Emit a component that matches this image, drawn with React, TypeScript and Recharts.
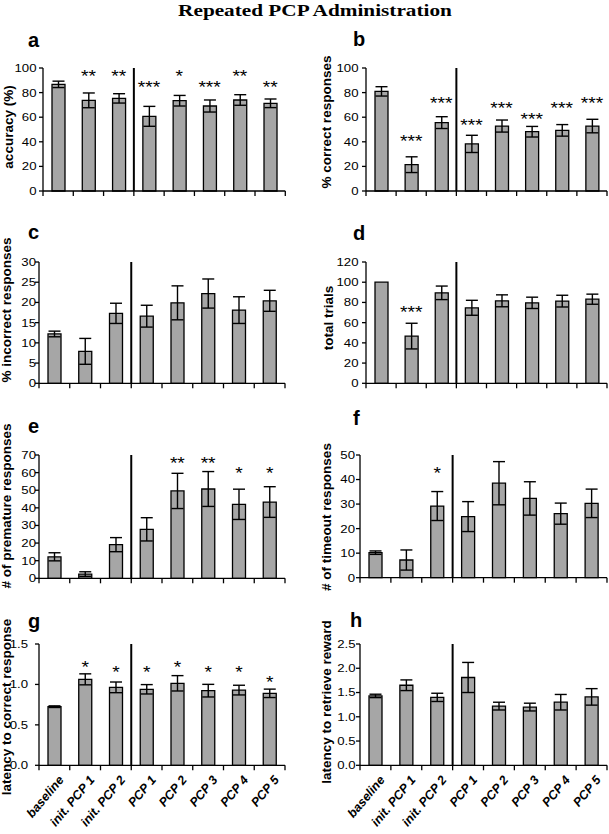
import React from "react"
import {
  Bar,
  ComposedChart,
  ErrorBar,
  ReferenceLine,
  Scatter,
  XAxis,
  YAxis,
} from "recharts"

const CATEGORIES = [
  "baseline",
  "init. PCP 1",
  "init. PCP 2",
  "PCP 1",
  "PCP 2",
  "PCP 3",
  "PCP 4",
  "PCP 5",
]

// a — accuracy (%)
const ACC_MEAN = [86.7, 73.7, 75.3, 60.7, 73.4, 69.1, 74.0, 71.3]
const ACC_SEM = [2.6, 6.0, 3.8, 8.1, 4.3, 4.9, 4.3, 3.5]
const ACC_STARS = ["", "**", "**", "***", "*", "***", "**", "**"]
const ACC_STAR_AT = [0, 96.2, 96.2, 87.8, 96.2, 87.8, 96.2, 87.8]

// b — % correct responses
const CORR_MEAN = [81.0, 21.4, 55.6, 38.3, 52.8, 48.2, 49.3, 52.8]
const CORR_SEM = [3.8, 6.4, 4.8, 7.0, 4.9, 4.3, 4.7, 5.5]
const CORR_STARS = ["", "***", "***", "***", "***", "***", "***", "***"]
const CORR_STAR_AT = [0, 43.4, 74.3, 56.9, 70.5, 61.5, 70.5, 74.5]

// c — % incorrect responses
const INC_MEAN = [12.2, 7.9, 17.3, 16.6, 19.9, 22.2, 18.1, 20.4]
const INC_SEM = [0.7, 3.2, 2.5, 2.7, 4.2, 3.6, 3.3, 2.6]

// d — total trials
const TRIALS_MEAN = [100, 46.7, 89.5, 74.7, 81.6, 79.6, 81.3, 83.2]
const TRIALS_SEM = [0, 12.7, 6.7, 7.4, 5.9, 5.6, 5.8, 5.0]
const TRIALS_STARS = ["", "***", "", "", "", "", "", ""]
const TRIALS_STAR_AT = [0, 74, 0, 0, 0, 0, 0, 0]

// e — # of premature responses
const PREM_MEAN = [12.2, 2.4, 19.1, 27.8, 49.6, 50.7, 42.0, 43.3]
const PREM_SEM = [2.3, 1.3, 4.0, 6.6, 10.0, 9.9, 8.6, 8.7]
const PREM_STARS = ["", "", "", "", "**", "**", "*", "*"]
const PREM_STAR_AT = [0, 0, 0, 0, 67.2, 67.2, 61.5, 61.5]

// f — # of timeout responses
const TIMEOUT_MEAN = [10.2, 7.2, 29.2, 24.9, 38.5, 32.3, 26.1, 30.3]
const TIMEOUT_SEM = [0.7, 4.1, 5.9, 6.1, 8.8, 6.8, 4.3, 5.8]
const TIMEOUT_STARS = ["", "", "*", "", "", "", "", ""]
const TIMEOUT_STAR_AT = [0, 0, 43.9, 0, 0, 0, 0, 0]

// g — latency to correct response
const LATC_MEAN = [0.725, 1.063, 0.964, 0.94, 1.014, 0.923, 0.93, 0.89]
const LATC_SEM = [0.01, 0.068, 0.066, 0.058, 0.095, 0.078, 0.06, 0.052]
const LATC_STARS = ["", "*", "*", "*", "*", "*", "*", "*"]
const LATC_STAR_AT = [0, 1.26, 1.2, 1.2, 1.26, 1.2, 1.2, 1.075]

// h — latency to retrieve reward
const LATR_MEAN = [1.43, 1.65, 1.4, 1.81, 1.22, 1.2, 1.3, 1.41]
const LATR_SEM = [0.035, 0.11, 0.085, 0.31, 0.08, 0.08, 0.16, 0.17]

const FONT = "'Liberation Sans', Arial, sans-serif"
const BAR_FILL = "#a6a6a6"

const X_TICKS = [0, 0.5, 1, 1.5, 2, 2.5, 3, 3.5, 4, 4.5, 5, 5.5, 6, 6.5, 7, 7.5, 8]

function XTick(props: any) {
  const { x, y, payload, showLabels } = props
  const v = payload.value as number
  if (Number.isInteger(v)) {
    return <line x1={x} x2={x} y1={y} y2={y + 5} stroke="#000" strokeWidth={1.3} />
  }
  if (!showLabels) return <g />
  return (
    <text
      transform={`translate(${x + 10},${y + 15}) rotate(-50)`}
      textAnchor="end"
      fontSize={12.5}
      fontWeight="bold"
      fontStyle="italic"
      fontFamily={FONT}
      fill="#000"
    >
      {CATEGORIES[Math.floor(v)]}
    </text>
  )
}

function YTick(props: any) {
  const { x, y, payload, decimals } = props
  const v = payload.value as number
  return (
    <text
      transform={`translate(${x},${y}) scale(1.2,1)`}
      textAnchor="end"
      dy="0.36em"
      fontSize={11}
      fontFamily={FONT}
      fill="#000"
    >
      {decimals ? v.toFixed(1) : String(v)}
    </text>
  )
}

function StarMark(props: any) {
  const { cx, cy, payload } = props
  if (cx == null || cy == null || !payload?.star) return <g />
  return (
    <text
      transform={`translate(${cx},${cy + 9.5}) scale(1.2,1)`}
      textAnchor="middle"
      fontSize={16}
      fontFamily={FONT}
      fill="#000"
    >
      {payload.star}
    </text>
  )
}

interface PanelProps {
  mean: number[]
  sem: number[]
  stars?: string[]
  starAt?: number[]
  yMax: number
  yTicks: number[]
  decimals?: boolean
  // plot rectangle on the page
  x0: number
  x1: number
  yTop: number
  yBot: number
  tickGap: number
  showLabels?: boolean
}

const AXIS_W = 40
const TOP_M = 10
const RIGHT_M = 2

function Panel(p: PanelProps) {
  const rows = CATEGORIES.map((name, i) => ({
    x: i + 0.5,
    name,
    mean: p.mean[i],
    sem: p.sem[i],
    star: p.stars ? p.stars[i] : "",
    starAt: p.starAt ? p.starAt[i] : 0,
  }))
  const starRows = rows.filter((r) => r.star)
  const xAxisH = p.showLabels ? 80 : 10
  const plotW = p.x1 - p.x0
  const plotH = p.yBot - p.yTop
  const width = AXIS_W + plotW + RIGHT_M
  const height = TOP_M + plotH + xAxisH

  return (
    <div style={{ position: "absolute", left: p.x0 - AXIS_W, top: p.yTop - TOP_M }}>
      <ComposedChart
        width={width}
        height={height}
        data={rows}
        margin={{ top: TOP_M, right: RIGHT_M, left: 0, bottom: 0 }}
      >
        <XAxis
          dataKey="x"
          type="number"
          domain={[0, 8]}
          ticks={X_TICKS}
          interval={0}
          height={xAxisH}
          tickSize={0}
          tickMargin={0}
          tickLine={false}
          axisLine={{ stroke: "#000", strokeWidth: 1.3 }}
          tick={<XTick showLabels={p.showLabels} />}
        />
        <YAxis
          type="number"
          domain={[0, p.yMax]}
          ticks={p.yTicks}
          interval={0}
          width={AXIS_W}
          tickSize={4}
          tickMargin={p.tickGap - 4}
          axisLine={{ stroke: "#000", strokeWidth: 1.3 }}
          tickLine={{ stroke: "#000", strokeWidth: 1.3 }}
          tick={<YTick decimals={p.decimals} />}
        />
        <Bar
          dataKey="mean"
          barSize={13}
          fill={BAR_FILL}
          stroke="#000"
          strokeWidth={1.3}
          isAnimationActive={false}
        >
          <ErrorBar dataKey="sem" width={6} stroke="#000" strokeWidth={1.4} direction="y" />
        </Bar>
        <ReferenceLine x={3} stroke="#000" strokeWidth={2} />
        {starRows.length > 0 && (
          <Scatter
            data={starRows}
            dataKey="starAt"
            shape={<StarMark />}
            isAnimationActive={false}
          />
        )}
      </ComposedChart>
    </div>
  )
}

const Y_LABELS = [
  { text: "accuracy (%)", x: 13, y: 127 },
  { text: "% correct responses", x: 331, y: 122 },
  { text: "% incorrect responses", x: 11, y: 310 },
  { text: "total trials", x: 333, y: 318 },
  { text: "# of premature responses", x: 11, y: 506 },
  { text: "# of timeout responses", x: 331, y: 517 },
  { text: "latency to correct response", x: 11, y: 707 },
  { text: "latency to retrieve reward", x: 331, y: 702 },
]

const LETTERS = [
  { t: "a", x: 28, y: 47 },
  { t: "b", x: 353, y: 46 },
  { t: "c", x: 28, y: 239 },
  { t: "d", x: 353, y: 240 },
  { t: "e", x: 28, y: 433 },
  { t: "f", x: 353, y: 425 },
  { t: "g", x: 28, y: 628 },
  { t: "h", x: 350, y: 627 },
]

export default function App() {
  return (
    <div
      style={{
        position: "absolute",
        left: 0,
        top: 0,
        width: 609,
        height: 834,
        background: "#fff",
        overflow: "hidden",
      }}
    >
      <Panel
        mean={ACC_MEAN}
        sem={ACC_SEM}
        stars={ACC_STARS}
        starAt={ACC_STAR_AT}
        yMax={100}
        yTicks={[0, 20, 40, 60, 80, 100]}
        x0={42.7}
        x1={285}
        yTop={67.7}
        yBot={190.7}
        tickGap={6.5}
      />
      <Panel
        mean={CORR_MEAN}
        sem={CORR_SEM}
        stars={CORR_STARS}
        starAt={CORR_STAR_AT}
        yMax={100}
        yTicks={[0, 20, 40, 60, 80, 100]}
        x0={366}
        x1={607}
        yTop={67.7}
        yBot={190.7}
        tickGap={7.5}
      />
      <Panel
        mean={INC_MEAN}
        sem={INC_SEM}
        yMax={30}
        yTicks={[0, 5, 10, 15, 20, 25, 30]}
        x0={39}
        x1={285}
        yTop={261.7}
        yBot={383}
        tickGap={3}
      />
      <Panel
        mean={TRIALS_MEAN}
        sem={TRIALS_SEM}
        stars={TRIALS_STARS}
        starAt={TRIALS_STAR_AT}
        yMax={120}
        yTicks={[0, 20, 40, 60, 80, 100, 120]}
        x0={366}
        x1={607}
        yTop={261.7}
        yBot={383}
        tickGap={7.5}
      />
      <Panel
        mean={PREM_MEAN}
        sem={PREM_SEM}
        stars={PREM_STARS}
        starAt={PREM_STAR_AT}
        yMax={70}
        yTicks={[0, 10, 20, 30, 40, 50, 60, 70]}
        x0={39}
        x1={285}
        yTop={455}
        yBot={578.3}
        tickGap={3}
      />
      <Panel
        mean={TIMEOUT_MEAN}
        sem={TIMEOUT_SEM}
        stars={TIMEOUT_STARS}
        starAt={TIMEOUT_STAR_AT}
        yMax={50}
        yTicks={[0, 10, 20, 30, 40, 50]}
        x0={360}
        x1={607}
        yTop={455}
        yBot={577.7}
        tickGap={5}
      />
      <Panel
        mean={LATC_MEAN}
        sem={LATC_SEM}
        stars={LATC_STARS}
        starAt={LATC_STAR_AT}
        yMax={1.5}
        yTicks={[0, 0.5, 1, 1.5]}
        decimals
        x0={39}
        x1={285}
        yTop={644}
        yBot={765.3}
        tickGap={11}
        showLabels
      />
      <Panel
        mean={LATR_MEAN}
        sem={LATR_SEM}
        yMax={2.5}
        yTicks={[0, 0.5, 1, 1.5, 2, 2.5]}
        decimals
        x0={360}
        x1={607}
        yTop={644}
        yBot={765.3}
        tickGap={4.5}
        showLabels
      />

      <svg
        width={609}
        height={834}
        style={{ position: "absolute", left: 0, top: 0, pointerEvents: "none" }}
      >
        <text
          transform="translate(315,16) scale(1.25,1)"
          textAnchor="middle"
          fontSize={17}
          fontWeight="bold"
          fontFamily="'Liberation Serif', 'Times New Roman', serif"
          fill="#000"
        >
          Repeated PCP Administration
        </text>
        {LETTERS.map((l) => (
          <text
            key={l.t}
            x={l.x}
            y={l.y}
            fontSize={20}
            fontWeight="bold"
            fontFamily={FONT}
            fill="#000"
          >
            {l.t}
          </text>
        ))}
        {Y_LABELS.map((l) => (
          <text
            key={l.text}
            transform={`translate(${l.x},${l.y}) rotate(-90)`}
            textAnchor="middle"
            fontSize={13.5}
            fontWeight="bold"
            fontFamily={FONT}
            fill="#000"
          >
            {l.text}
          </text>
        ))}
      </svg>
    </div>
  )
}
